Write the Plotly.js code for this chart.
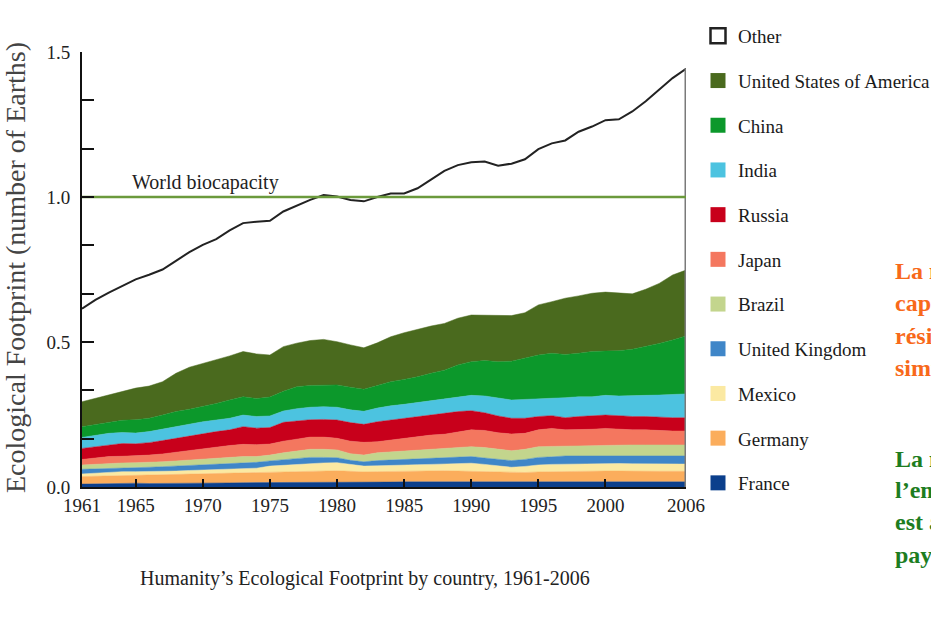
<!DOCTYPE html>
<html><head><meta charset="utf-8">
<script src="https://cdn.plot.ly/plotly-3.0.1.min.js"></script>
<style>html,body{margin:0;padding:0;background:#fff}#chart{width:931px;height:621px}</style>
</head><body><div id="chart"></div>
<script>
const years = [1961,1962,1963,1964,1965,1966,1967,1968,1969,1970,1971,1972,1973,1974,1975,1976,1977,1978,1979,1980,1981,1982,1983,1984,1985,1986,1987,1988,1989,1990,1991,1992,1993,1994,1995,1996,1997,1998,1999,2000,2001,2002,2003,2004,2005,2006];

const france  = [0.010,0.011,0.011,0.012,0.013,0.012,0.012,0.013,0.013,0.013, 0.014,0.014,0.015,0.015,0.015,0.016,0.016,0.017,0.017,0.017, 0.017,0.017,0.017,0.017,0.018,0.018,0.018,0.018,0.018,0.018, 0.018,0.018,0.017,0.017,0.018,0.018,0.018,0.018,0.018,0.018, 0.018,0.018,0.018,0.018,0.018,0.018];
const germany = [0.026,0.026,0.027,0.028,0.028,0.030,0.030,0.030,0.031,0.032, 0.032,0.033,0.033,0.034,0.037,0.037,0.038,0.038,0.039,0.039, 0.037,0.035,0.036,0.037,0.037,0.037,0.038,0.038,0.037,0.036, 0.034,0.032,0.032,0.033,0.034,0.035,0.035,0.036,0.036,0.037, 0.037,0.036,0.036,0.036,0.036,0.036];
const mexico  = [0.009,0.011,0.012,0.013,0.012,0.011,0.011,0.012,0.013,0.014, 0.015,0.016,0.016,0.016,0.020,0.022,0.024,0.026,0.027,0.028, 0.024,0.020,0.020,0.021,0.021,0.022,0.022,0.023,0.025,0.028, 0.026,0.023,0.019,0.021,0.024,0.025,0.026,0.026,0.027,0.027, 0.026,0.026,0.026,0.025,0.025,0.025];
const uk      = [0.016,0.014,0.013,0.011,0.013,0.015,0.017,0.017,0.017,0.017, 0.018,0.019,0.020,0.020,0.018,0.019,0.020,0.021,0.019,0.017, 0.014,0.015,0.018,0.018,0.019,0.020,0.021,0.022,0.023,0.023, 0.022,0.022,0.023,0.024,0.026,0.026,0.028,0.027,0.026,0.025, 0.026,0.027,0.027,0.028,0.028,0.028];
const brazil  = [0.015,0.017,0.019,0.019,0.018,0.017,0.017,0.018,0.019,0.020, 0.020,0.020,0.021,0.020,0.020,0.024,0.026,0.028,0.028,0.027, 0.023,0.023,0.027,0.028,0.030,0.031,0.031,0.032,0.033,0.034, 0.036,0.035,0.034,0.035,0.037,0.036,0.034,0.035,0.036,0.038, 0.038,0.038,0.038,0.038,0.038,0.038];
const japan   = [0.019,0.021,0.023,0.023,0.023,0.025,0.027,0.030,0.032,0.036, 0.040,0.041,0.042,0.041,0.038,0.040,0.041,0.042,0.042,0.040, 0.043,0.044,0.038,0.041,0.043,0.045,0.049,0.049,0.054,0.058, 0.059,0.057,0.058,0.055,0.058,0.062,0.056,0.055,0.056,0.057, 0.054,0.052,0.052,0.049,0.048,0.048];
const russia  = [0.038,0.039,0.040,0.044,0.042,0.043,0.046,0.048,0.052,0.053, 0.052,0.054,0.061,0.057,0.057,0.065,0.063,0.060,0.061,0.063, 0.064,0.062,0.069,0.069,0.069,0.070,0.069,0.072,0.070,0.066, 0.061,0.058,0.054,0.052,0.046,0.044,0.042,0.046,0.047,0.046, 0.047,0.046,0.046,0.046,0.046,0.046];
const india   = [0.038,0.039,0.040,0.038,0.037,0.038,0.040,0.040,0.040,0.040, 0.040,0.040,0.040,0.040,0.040,0.039,0.042,0.043,0.044,0.044, 0.044,0.045,0.047,0.049,0.048,0.048,0.049,0.048,0.049,0.053, 0.058,0.061,0.063,0.065,0.060,0.060,0.069,0.068,0.065,0.068, 0.068,0.071,0.073,0.077,0.081,0.082];
const china   = [0.037,0.037,0.037,0.042,0.046,0.046,0.048,0.052,0.051,0.052, 0.057,0.063,0.063,0.062,0.065,0.068,0.076,0.075,0.075,0.077, 0.078,0.076,0.078,0.083,0.086,0.089,0.095,0.101,0.112,0.116, 0.122,0.126,0.134,0.142,0.152,0.155,0.149,0.150,0.156,0.153, 0.156,0.161,0.168,0.178,0.187,0.200];
const usa     = [0.086,0.091,0.095,0.101,0.109,0.111,0.115,0.132,0.145,0.149, 0.150,0.152,0.156,0.154,0.145,0.154,0.150,0.155,0.157,0.149, 0.146,0.143,0.147,0.155,0.161,0.164,0.163,0.161,0.161,0.161, 0.157,0.159,0.157,0.157,0.173,0.178,0.194,0.198,0.201,0.203, 0.200,0.191,0.198,0.207,0.224,0.227];
const other   = [0.321,0.339,0.353,0.361,0.375,0.384,0.387,0.388,0.397,0.409, 0.417,0.433,0.443,0.456,0.463,0.466,0.474,0.485,0.498,0.501, 0.500,0.505,0.503,0.494,0.480,0.486,0.505,0.526,0.528,0.527, 0.529,0.517,0.524,0.529,0.537,0.546,0.544,0.566,0.575,0.593, 0.598,0.629,0.648,0.668,0.679,0.694];

const worldBiocapacity = 1.0;

const xTickVals = [1961,1965,1970,1975,1980,1985,1990,1995,2000,2006];
const yTickVals = [0,0.5,1.0,1.5];
const yTickText = ['0.0','0.5','1.0','1.5'];

const legendNames = ['Other','United States of America','China','India','Russia','Japan','Brazil','United Kingdom','Mexico','Germany','France'];

// bottom-to-top stacking order
const stackNames  = ['France','Germany','Mexico','United Kingdom','Brazil','Japan','Russia','India','China','United States of America'];
const stackSeries = [france, germany, mexico, uk, brazil, japan, russia, india, china, usa];
const colors = {
  'France':'#0b3f8c','Germany':'#fbad5c','Mexico':'#fbe9a2','United Kingdom':'#3f86c8',
  'Brazil':'#c3d58d','Japan':'#f4775f','Russia':'#c8001b','India':'#4cc3e0',
  'China':'#0c982b','United States of America':'#4a6a1e'
};

const serif = 'Liberation Serif, Times New Roman, serif';
const traces = [];
stackNames.forEach((n,i)=>{
  traces.push({x:years, y:stackSeries[i], type:'scatter', mode:'lines', stackgroup:'fp',
    name:n, showlegend:false, fillcolor:colors[n], line:{color:colors[n], width:0.5}, hoverinfo:'skip'});
});
traces.push({x:years, y:other, type:'scatter', mode:'lines', stackgroup:'fp', name:'Other',
  showlegend:false, fillcolor:'rgba(255,255,255,0)', line:{color:'#222', width:2}, hoverinfo:'skip'});

// right edge of the "Other" area
const last = years.length-1;
let total = other[last];
stackSeries.forEach(s=>{ total += s[last]; });
traces.push({x:[years[last],years[last]], y:[0,total], type:'scatter', mode:'lines',
  showlegend:false, line:{color:'#7a7a7a', width:3}, hoverinfo:'skip'});

// world biocapacity
traces.push({x:[years[0],years[last]], y:[worldBiocapacity,worldBiocapacity], type:'scatter', mode:'lines',
  showlegend:false, line:{color:'#6b9a3c', width:2.5}, hoverinfo:'skip'});

// legend entries
legendNames.forEach((n,i)=>{
  const isOther = n==='Other';
  traces.push({x:[null], y:[null], type:'scatter', mode:'markers', name:n, legendgroup:'g'+i,
    showlegend:true,
    marker:{symbol:'square', size:15, color: isOther ? '#ffffff' : colors[n],
      line:{color: isOther ? '#222' : colors[n], width: isOther ? 2.5 : 0}}});
});

const plotW = 931-82-245, plotH = 621-52-134;
const px2x = px => (px-82)/plotW;
const py2y = py => 1-(py-52)/plotH;

const annotations = [
  {xref:'paper', yref:'y', x:px2x(130), y:worldBiocapacity, xanchor:'left', yanchor:'bottom', yshift:1,
   text:'World biocapacity', showarrow:false, font:{family:serif, size:20, color:'#222'}},
  {xref:'paper', yref:'paper', x:px2x(365), y:py2y(578), xanchor:'center', yanchor:'middle',
   text:'Humanity’s Ecological Footprint by country, 1961-2006', showarrow:false,
   font:{family:serif, size:20, color:'#222'}},
  {xref:'paper', yref:'paper', x:px2x(15), y:py2y(268), xanchor:'center', yanchor:'middle', textangle:-90,
   text:'Ecological Footprint (number of Earths)', showarrow:false,
   font:{family:serif, size:28, color:'#444'}}
];
const orangeLines = ['La nature a une','capacité de','résilience mais','simultanément limitée'];
const orangeY = [271,303,336,368];
const greenLines = ['La majorité de','l’empreinte écologique','est attribuable aux','pays développés'];
const greenY = [459,490,522,555];
orangeLines.forEach((t,i)=>annotations.push({xref:'paper', yref:'paper', x:px2x(893), y:py2y(orangeY[i]),
  xanchor:'left', yanchor:'middle', text:'<b>'+t+'</b>', showarrow:false,
  font:{family:serif, size:24, color:'#f8691a'}}));
greenLines.forEach((t,i)=>annotations.push({xref:'paper', yref:'paper', x:px2x(893), y:py2y(greenY[i]),
  xanchor:'left', yanchor:'middle', text:'<b>'+t+'</b>', showarrow:false,
  font:{family:serif, size:24, color:'#1d7d1f'}}));

const layout = {
  width:931, height:621,
  margin:{l:82, r:245, t:52, b:134, autoexpand:false},
  paper_bgcolor:'#fff', plot_bgcolor:'#fff',
  showlegend:true,
  hovermode:false,
  xaxis:{range:[1961,2006], tickvals:xTickVals, ticktext:xTickVals.map(String),
    ticks:'inside', ticklen:8, tickwidth:2, tickcolor:'#111',
    showline:true, linewidth:2, linecolor:'#111', showgrid:false, zeroline:false,
    tickfont:{family:serif, size:19, color:'#222'}, fixedrange:true},
  yaxis:{range:[0,1.5], tickvals:yTickVals, ticktext:yTickText,
    ticks:'inside', ticklen:12, tickwidth:2, tickcolor:'#111',
    minor:{ticks:'inside', ticklen:12, tickwidth:2, tickcolor:'#111', dtick:1/6, tick0:0, showgrid:false},
    showline:true, linewidth:2, linecolor:'#111', showgrid:false, zeroline:false,
    ticklabelstandoff:6,
    tickfont:{family:serif, size:19, color:'#222'}, fixedrange:true},
  legend:{x:px2x(698), xanchor:'left', y:py2y(17), yanchor:'top', traceorder:'grouped',
    tracegroupgap:17, itemwidth:30, bgcolor:'rgba(0,0,0,0)', maxheight:600,
    font:{family:serif, size:19, color:'#1a1a1a'}},
  annotations:annotations
};

Plotly.newPlot('chart', traces, layout, {displayModeBar:false, staticPlot:true});
</script>
</body></html>
